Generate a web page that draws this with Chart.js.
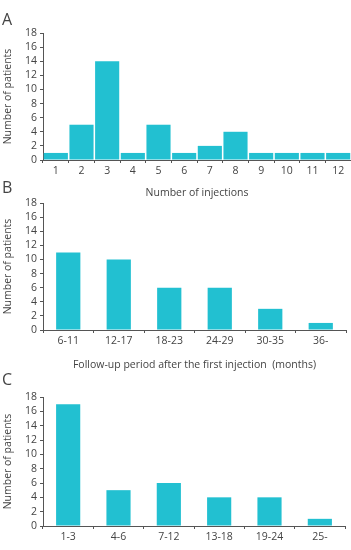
<!DOCTYPE html>
<html>
<head>
<meta charset="utf-8">
<script src="https://cdn.jsdelivr.net/npm/chart.js@4/dist/chart.umd.min.js"></script>
<style>
  html, body { margin: 0; padding: 0; background: #fff; }
  #wrap { position: relative; width: 351px; height: 550px; overflow: hidden; }
  .panel { position: absolute; left: 0; width: 351px; }
  .letter { position: absolute; left: 2px; font-family: "Open Sans", sans-serif; font-size: 16px; color: #444; line-height: 16px; }
</style>
</head>
<body>
<div id="wrap">
  <div class="panel" style="top:0;height:200px"><canvas id="chartA"></canvas></div>
  <div class="panel" style="top:170px;height:205px"><canvas id="chartB"></canvas></div>
  <div class="panel" style="top:365px;height:185px"><canvas id="chartC"></canvas></div>
  <div class="letter" style="top:11px">A</div>
  <div class="letter" style="top:179px">B</div>
  <div class="letter" style="top:371px">C</div>
</div>
<script>
const injectionLabels = ["1", "2", "3", "4", "5", "6", "7", "8", "9", "10", "11", "12"];
const injectionCounts = [1, 5, 14, 1, 5, 1, 2, 4, 1, 1, 1, 1];

const followUpLabels = ["6-11", "12-17", "18-23", "24-29", "30-35", "36-"];
const followUpCounts = [11, 10, 6, 6, 3, 1];

const intervalLabels = ["1-3", "4-6", "7-12", "13-18", "19-24", "25-"];
const intervalCounts = [17, 5, 6, 4, 4, 1];

const yTicks = [0, 2, 4, 6, 8, 10, 12, 14, 16, 18];

const BAR_COLOR = "#22c0d1";
const TEXT_COLOR = "#444";
const AXIS_COLOR = "#555";
const FONT = { family: "'Open Sans', sans-serif", size: 10.5 };

Chart.defaults.animation = false;
Chart.defaults.color = TEXT_COLOR;

function makeChart(id, labels, values, opts) {
  const ctx = document.getElementById(id);
  return new Chart(ctx, {
    type: "bar",
    data: {
      labels: labels,
      datasets: [
        {
          data: values,
          backgroundColor: BAR_COLOR,
          borderWidth: 0,
          barPercentage: opts.barPercentage,
          categoryPercentage: 1,
        },
      ],
    },
    options: {
      responsive: true,
      maintainAspectRatio: false,
      layout: { padding: opts.padding },
      plugins: {
        legend: { display: false },
        tooltip: { enabled: false },
      },
      scales: {
        x: {
          afterFit: (scale) => { scale.height = opts.xHeight; },
          border: { display: true, color: AXIS_COLOR, width: 1 },
          grid: {
            offset: true,
            drawOnChartArea: false,
            drawTicks: true,
            tickLength: 3,
            color: AXIS_COLOR,
          },
          ticks: { font: FONT, padding: 2, maxRotation: 0, autoSkip: false, color: TEXT_COLOR },
          title: {
            display: !!opts.xTitle,
            text: opts.xTitle || "",
            font: FONT,
            color: TEXT_COLOR,
            padding: { top: 0, bottom: 0 },
          },
        },
        y: {
          min: 0,
          max: 18,
          afterFit: (scale) => { scale.width = 43; },
          afterBuildTicks: (scale) => {
            scale.ticks = yTicks.map((v) => ({ value: v }));
          },
          border: { display: true, color: AXIS_COLOR, width: 1 },
          grid: {
            drawOnChartArea: false,
            drawTicks: true,
            tickLength: 3,
            color: AXIS_COLOR,
          },
          ticks: { font: FONT, padding: 3, autoSkip: false, color: TEXT_COLOR },
          title: {
            display: true,
            text: "Number of patients",
            font: FONT,
            color: TEXT_COLOR,
            padding: { top: 2, bottom: 0 },
          },
        },
      },
    },
  });
}

makeChart("chartA", injectionLabels, injectionCounts, {
  barPercentage: 0.94,
  padding: { top: 33, right: 0, bottom: 1, left: 0 },
  xHeight: 39,
  xTitle: "Number of injections",
});

makeChart("chartB", followUpLabels, followUpCounts, {
  barPercentage: 0.48,
  padding: { top: 33, right: 5, bottom: 4, left: 0 },
  xHeight: 41,
  xTitle: "Follow-up period after the first injection  (months)",
});

makeChart("chartC", intervalLabels, intervalCounts, {
  barPercentage: 0.48,
  padding: { top: 32, right: 6, bottom: 0, left: 0 },
  xHeight: 24,
  xTitle: null,
});
</script>
</body>
</html>
